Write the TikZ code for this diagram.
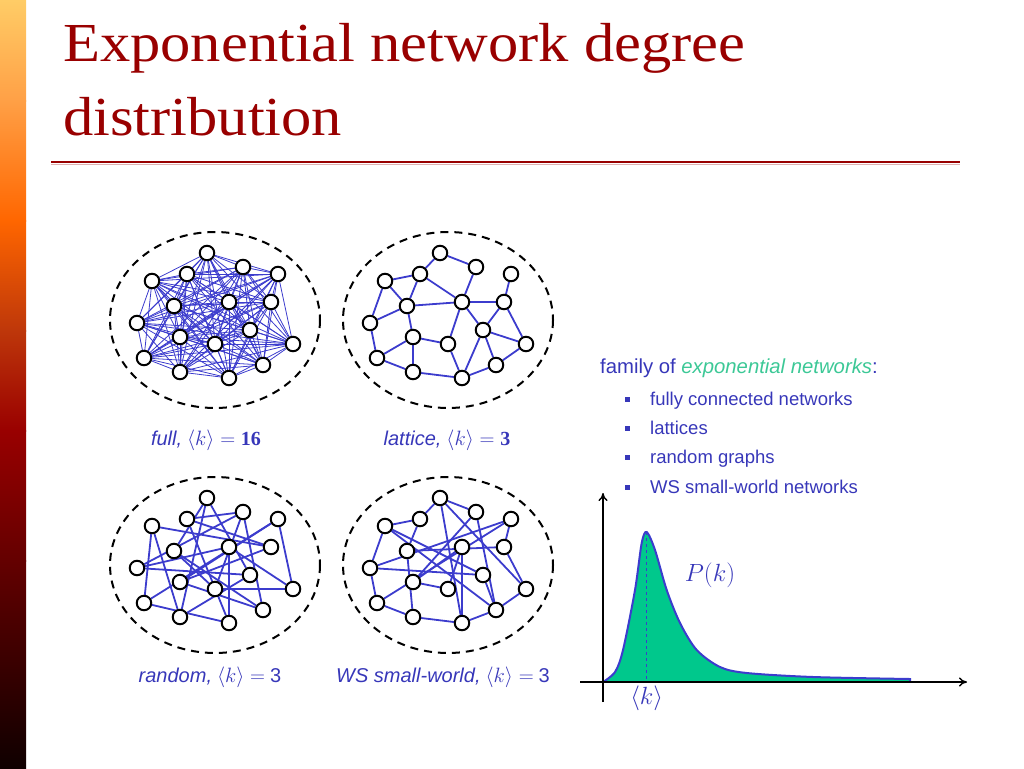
\documentclass[tikz,border=0pt]{standalone}
\usepackage{fontspec}
\setmainfont{Liberation Serif}
\setsansfont{Liberation Sans}
\newfontfamily\titlefont[FakeStretch=1.1]{Liberation Serif}
\usetikzlibrary{arrows.meta,backgrounds}

\definecolor{titlered}{RGB}{153,0,0}
\definecolor{netblue}{RGB}{60,60,205}
\definecolor{textblue}{RGB}{55,55,185}
\definecolor{expgreen}{RGB}{60,200,150}
\definecolor{areagreen}{RGB}{0,200,140}
\definecolor{barA}{RGB}{255,204,102}
\definecolor{barB}{RGB}{255,160,70}
\definecolor{barC}{RGB}{255,102,0}
\definecolor{barD}{RGB}{190,55,10}
\definecolor{barE}{RGB}{153,0,0}
\definecolor{barF}{RGB}{100,0,0}
\definecolor{barG}{RGB}{15,0,0}

\tikzset{
  netnode/.style={circle, draw=black, fill=white, line width=2pt, minimum size=14.5pt, inner sep=0pt},
  boundary/.style={draw=black, line width=2pt, dash pattern=on 8pt off 6pt},
  fulledge/.style={netblue, line width=0.8pt},
  netedge/.style={netblue, line width=1.8pt},
  labeltext/.style={anchor=base, text=textblue, inner sep=0pt, font=\fontsize{20}{24}\selectfont},
  itemtext/.style={anchor=base west, text=textblue, inner sep=0pt, font=\sffamily\fontsize{18.5}{22}\selectfont},
  bulletsq/.style={rectangle, fill=textblue, minimum size=5pt, inner sep=0pt}
}

% node layout shared by the four networks (relative to the centre)
\def\netlayout{1/-8/-67, 2/28/-53, 3/63/-46, 4/-28/-46, 5/-63/-39, 6/-41/-14,
  7/14/-18, 8/56/-18, 9/-78/3, 10/35/10, 11/-35/17, 12/0/24, 13/78/24,
  14/-71/38, 15/-35/52, 16/48/45, 17/14/58}

\begin{document}
\begin{tikzpicture}[x=1pt,y=-1pt]
  \useasboundingbox (0,0) rectangle (1024,768);

  % Left bar
  \shade[top color=barA, bottom color=barB] (0,0) rectangle (26,101);
  \shade[top color=barB, bottom color=barC] (0,100) rectangle (26,221);
  \shade[top color=barC, bottom color=barD] (0,220) rectangle (26,331);
  \shade[top color=barD, bottom color=barE] (0,330) rectangle (26,431);
  \shade[top color=barE, bottom color=barF] (0,430) rectangle (26,561);
  \shade[top color=barF, bottom color=barG] (0,560) rectangle (26,768);

  % Title
  \node[anchor=base west, text=titlered, inner sep=0pt, font=\titlefont\fontsize{55}{60}\selectfont] (title1) at (63,61) {Exponential network degree};
  \node[anchor=base west, text=titlered, inner sep=0pt, font=\titlefont\fontsize{55}{60}\selectfont] (title2) at (63,135) {distribution};
  \coordinate (ruleL) at (51,162);
  \coordinate (ruleR) at (960,162);
  \draw[titlered!30, line width=1.2pt] ([yshift=-2.2pt]ruleL) -- ([yshift=-2.2pt]ruleR);
  \draw[titlered, line width=2.2pt] (ruleL) -- (ruleR);

  % Full network
  \begin{scope}[shift={(215,320)}]
    \draw[boundary] (0,0) ellipse [x radius=105, y radius=88];
    \foreach \i/\x/\y in \netlayout
      \node[netnode] (f\i) at (\x,\y) {};
  \end{scope}
  \begin{scope}[on background layer]
    \foreach \i in {1,...,16}{
      \pgfmathtruncatemacro{\nxt}{\i+1}
      \foreach \j in {\nxt,...,17}
        \draw[fulledge] (f\i) -- (f\j);
    }
  \end{scope}

  % Lattice
  \begin{scope}[shift={(448,320)}]
    \draw[boundary] (0,0) ellipse [x radius=105, y radius=88];
    \foreach \i/\x/\y in \netlayout
      \node[netnode] (l\i) at (\x,\y) {};
  \end{scope}
  \begin{scope}[on background layer]
    \foreach \a/\b in {1/2, 1/4, 2/7, 3/8, 4/5, 4/6, 4/7, 5/6, 5/9, 6/9, 6/7, 6/11,
      7/8, 7/10, 7/12, 8/10, 8/13, 9/14, 11/14, 11/12, 11/15, 14/15, 15/17,
      12/17, 10/17, 10/13, 10/16, 16/13, 16/17}
      \draw[netedge] (l\a) -- (l\b);
  \end{scope}

  % Random graph
  \begin{scope}[shift={(215,565)}]
    \draw[boundary] (0,0) ellipse [x radius=105, y radius=88];
    \foreach \i/\x/\y in \netlayout
      \node[netnode] (r\i) at (\x,\y) {};
  \end{scope}
  \begin{scope}[on background layer]
    \foreach \a/\b in {1/6, 1/10, 1/15, 2/4, 2/9, 2/12, 3/13, 3/11, 3/14, 4/17,
      4/8, 5/8, 5/15, 5/14, 6/16, 6/12, 7/9, 7/13, 7/17, 8/11, 9/10, 10/15,
      11/16, 12/13, 14/17, 16/2}
      \draw[netedge] (r\a) -- (r\b);
  \end{scope}

  % WS small-world
  \begin{scope}[shift={(448,565)}]
    \draw[boundary] (0,0) ellipse [x radius=105, y radius=88];
    \foreach \i/\x/\y in \netlayout
      \node[netnode] (w\i) at (\x,\y) {};
  \end{scope}
  \begin{scope}[on background layer]
    \foreach \a/\b in {1/2, 1/4, 1/17, 1/13, 2/11, 2/16, 3/8, 3/14, 3/9, 4/5,
      4/6, 5/9, 5/10, 6/15, 6/8, 7/17, 7/11, 8/13, 9/14, 9/10, 11/12, 12/7,
      14/15, 15/17, 16/17, 16/13, 10/16, 5/16}
      \draw[netedge] (w\a) -- (w\b);
  \end{scope}

  % Labels
  \node[labeltext] (fulllab) at (206,445) {{\sffamily\itshape full,} $\langle k\rangle = \mathbf{16}$};
  \node[labeltext] (latlab) at (447,445) {{\sffamily\itshape lattice,} $\langle k\rangle = \mathbf{3}$};
  \node[labeltext] (randlab) at (210,682) {{\sffamily\itshape random,} $\langle k\rangle =$ {\sffamily 3}};
  \node[labeltext] (wslab) at (443,682) {{\sffamily\itshape WS small-world,} $\langle k\rangle =$ {\sffamily 3}};

  % Family list
  \node[anchor=base west, text=textblue, inner sep=0pt, font=\sffamily\fontsize{20.3}{24}\selectfont] (family) at (600,373)
    {family of {\color{expgreen}\itshape exponential networks}:};
  \node[bulletsq] (b1) at (627,399) {};
  \node[bulletsq] (b2) at (627,428) {};
  \node[bulletsq] (b3) at (627,457) {};
  \node[bulletsq] (b4) at (627,487) {};
  \node[itemtext] (i1) at (650,405) {fully connected networks};
  \node[itemtext] (i2) at (650,434) {lattices};
  \node[itemtext] (i3) at (650,463) {random graphs};
  \node[itemtext] (i4) at (650,493) {WS small-world networks};

  % Degree distribution
  \fill[areagreen] plot[smooth] coordinates {(603,682) (615,672) (623,650) (635,590)
    (641.7,543) (646.7,532) (655,550) (666.7,590) (680,623) (696.7,650) (720,667)
    (746.7,673) (813,677) (910,679)} -- (910,682) -- cycle;
  \draw[netblue, line width=2pt] plot[smooth] coordinates {(603,682) (615,672) (623,650) (635,590)
    (641.7,543) (646.7,532) (655,550) (666.7,590) (680,623) (696.7,650) (720,667)
    (746.7,673) (813,677) (910,679)} -- (910,682);
  \coordinate (peak) at (646.7,532);
  \coordinate (peakfoot) at (646.7,682);
  \draw[netblue, dashed, line width=1pt] (peak) -- (peakfoot);
  \coordinate (xstart) at (580,682);
  \coordinate (xend) at (967,682);
  \coordinate (ystart) at (603,702);
  \coordinate (yend) at (603,493);
  \draw[line width=1.4pt, -{To[length=8pt,width=9pt]}] (xstart) -- (xend);
  \draw[line width=1.4pt, -{To[length=8pt,width=9pt]}] (ystart) -- (yend);
  \node[text=textblue, font=\fontsize{24}{28}\selectfont] (kmean) at (646.7,698) {$\langle k\rangle$};
  \node[text=textblue, font=\fontsize{24}{28}\selectfont] (pk) at (710,575) {$P(k)$};
\end{tikzpicture}
\end{document}
